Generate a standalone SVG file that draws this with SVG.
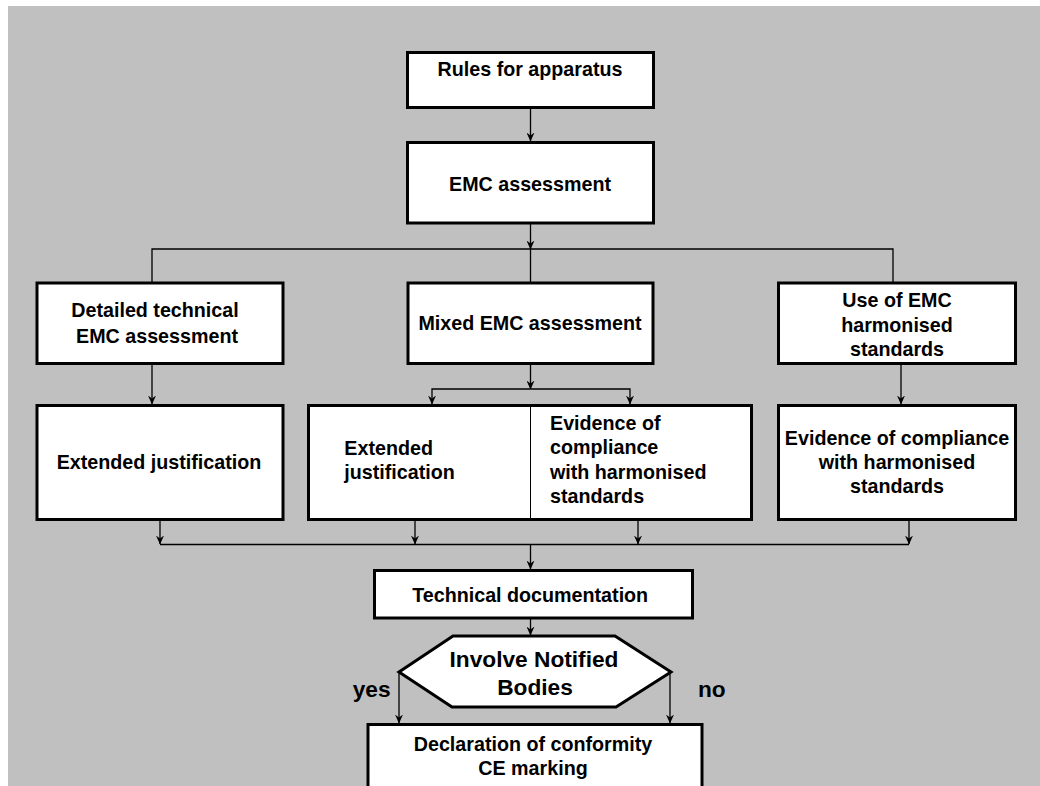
<svg xmlns="http://www.w3.org/2000/svg" width="1040" height="786" viewBox="0 0 1040 786">
<defs>
<marker id="ah" markerUnits="userSpaceOnUse" markerWidth="8" markerHeight="9" refX="4" refY="8.5" orient="0" viewBox="0 0 8 9">
<path d="M0,0 L4,3 L8,0 L4,9 z" fill="#000"/>
</marker>
<style>
.box{fill:#fff;stroke:#000;stroke-width:3}
.t{font-family:"Liberation Sans",Arial,sans-serif;font-weight:bold;font-size:19.7px;fill:#000;text-anchor:middle}
.l{text-anchor:start}
.big{font-size:22.7px}
.c{fill:none;stroke:#000;stroke-width:1.3}
.a{marker-end:url(#ah)}
</style>
</defs>
<rect x="8" y="6" width="1032" height="780" fill="#c0c0c0"/>
<g id="connectors">
<line class="c a" x1="530.5" y1="109" x2="530.5" y2="141"/>
<line class="c a" x1="530.5" y1="224" x2="530.5" y2="249"/>
<line class="c" x1="530.5" y1="249" x2="530.5" y2="282"/>
<polyline class="c" points="152,282 152,249 893,249 893,282"/>
<line class="c a" x1="152" y1="365" x2="152" y2="404"/>
<line class="c a" x1="530.5" y1="365" x2="530.5" y2="389"/>
<polyline class="c a" points="530.5,389 432,389 432,404"/>
<polyline class="c a" points="530.5,389 630,389 630,404"/>
<line class="c a" x1="901" y1="365" x2="901" y2="404"/>
<line class="c a" x1="160" y1="521" x2="160" y2="544"/>
<line class="c a" x1="415" y1="521" x2="415" y2="544"/>
<line class="c a" x1="638" y1="521" x2="638" y2="544"/>
<line class="c a" x1="909" y1="521" x2="909" y2="544"/>
<line class="c" x1="160" y1="544.5" x2="909" y2="544.5"/>
<line class="c a" x1="530.5" y1="544.5" x2="530.5" y2="569"/>
<line class="c a" x1="530.5" y1="619" x2="530.5" y2="635"/>
<line class="c a" x1="399" y1="673" x2="399" y2="723"/>
<line class="c a" x1="670" y1="673" x2="670" y2="723"/>
</g>
<g id="rules">
<rect class="box" x="407.5" y="52.5" width="246" height="55"/>
<text class="t" x="530" y="75.7">Rules for apparatus</text>
</g>
<g id="emc">
<rect class="box" x="407.5" y="142.5" width="246" height="80.5"/>
<text class="t" x="530" y="190.7">EMC assessment</text>
</g>
<g id="detailed">
<rect class="box" x="37" y="283" width="246" height="80.5"/>
<text class="t" x="155" y="317.3">Detailed technical</text>
<text class="t" x="157" y="342.7">EMC assessment</text>
</g>
<g id="mixed">
<rect class="box" x="408" y="283" width="245" height="80.5"/>
<text class="t" x="530" y="330">Mixed EMC assessment</text>
</g>
<g id="harmonised">
<rect class="box" x="778.5" y="283" width="237" height="80.5"/>
<text class="t" x="897" y="307.3">Use of EMC</text>
<text class="t" x="897" y="331.7">harmonised</text>
<text class="t" x="897" y="355.5">standards</text>
</g>
<g id="extended">
<rect class="box" x="37" y="405.5" width="246" height="114"/>
<text class="t" x="159" y="469">Extended justification</text>
</g>
<g id="mixed-evidence">
<rect class="box" x="308.5" y="405.5" width="443" height="114"/>
<line x1="530.5" y1="405.5" x2="530.5" y2="519.5" stroke="#000" stroke-width="1"/>
<text class="t l" x="344.3" y="455">Extended</text>
<text class="t l" x="344.3" y="479.3">justification</text>
<text class="t l" x="550" y="430">Evidence of</text>
<text class="t l" x="550" y="454.3">compliance</text>
<text class="t l" x="550" y="478.6">with harmonised</text>
<text class="t l" x="550" y="502.8">standards</text>
</g>
<g id="evidence">
<rect class="box" x="778.5" y="405.5" width="237" height="114"/>
<text class="t" x="897" y="445">Evidence of compliance</text>
<text class="t" x="897" y="469">with harmonised</text>
<text class="t" x="897" y="493">standards</text>
</g>
<g id="techdoc">
<rect class="box" x="374.5" y="570.5" width="318" height="47.5"/>
<text class="t" x="530.2" y="601.7">Technical documentation</text>
</g>
<g id="decision">
<polygon class="box" points="453,636 615,636 671,672 616,707 452,707 399,672"/>
<text class="t big" x="534" y="666.7">Involve Notified</text>
<text class="t big" x="535" y="695">Bodies</text>
<text class="t big l" x="352.7" y="697.3">yes</text>
<text class="t big l" x="698" y="697.3">no</text>
</g>
<g id="declaration">
<rect class="box" x="368" y="724.5" width="334" height="100"/>
<text class="t" x="533" y="750.7">Declaration of conformity</text>
<text class="t" x="533" y="775">CE marking</text>
</g>
</svg>
